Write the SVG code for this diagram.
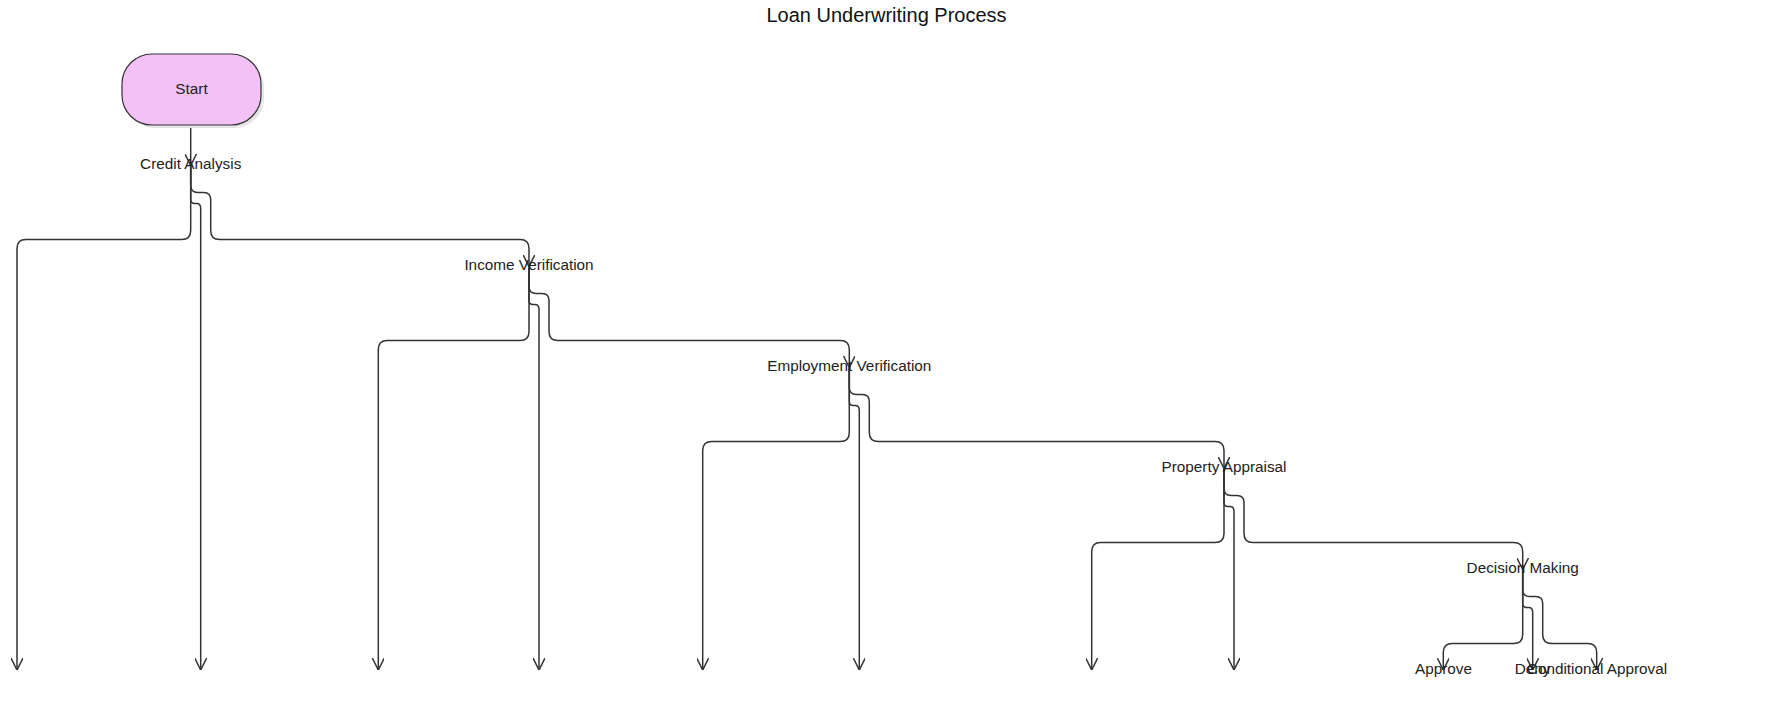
<svg xmlns="http://www.w3.org/2000/svg" width="1773" height="726" viewBox="0 0 1773 726">
<style>
text{font-family:"Liberation Sans",Arial,sans-serif;fill:#222;text-anchor:middle}
.lbl{font-size:15.3px}
.title{font-size:20px;fill:#111}
.edge{fill:none;stroke:#333;stroke-width:1.5;marker-end:url(#arr)}
</style>
<defs>
<marker id="arr" viewBox="0 0 12 12" refX="12" refY="6" markerWidth="12" markerHeight="12" markerUnits="userSpaceOnUse" orient="auto">
<path d="M0,0 L12,6 L0,12" fill="none" stroke="#333" stroke-width="1.5"/>
</marker>
</defs>
<rect width="1773" height="726" fill="#fff"/>
<text class="title" x="886.5" y="22">Loan Underwriting Process</text>
<g id="connectors">
<path class="edge" d="M190.7,125 V165.5"/>
<path class="edge" d="M190.7,165.5 V185.5 Q190.7,192.5 197.7,192.5 H203.7 Q210.7,192.5 210.7,199.5 V230.5 Q210.7,239.5 219.7,239.5 H520 Q529,239.5 529,248.5 V266.5"/>
<path class="edge" d="M190.7,165.5 V199.5 Q190.7,203.5 194.7,203.5 H196.7 Q200.7,203.5 200.7,208.5 V670"/>
<path class="edge" d="M190.7,165.5 V230.5 Q190.7,239.5 181.7,239.5 H26 Q17,239.5 17,248.5 V670"/>
<path class="edge" d="M529,266.5 V286.5 Q529,293.5 536,293.5 H542 Q549,293.5 549,300.5 V331.5 Q549,340.5 558,340.5 H840.3 Q849.3,340.5 849.3,349.5 V367.5"/>
<path class="edge" d="M529,266.5 V300.5 Q529,304.5 533,304.5 H535 Q539,304.5 539,309.5 V670"/>
<path class="edge" d="M529,266.5 V331.5 Q529,340.5 520,340.5 H387.3 Q378.3,340.5 378.3,349.5 V670"/>
<path class="edge" d="M849.3,367.5 V387.5 Q849.3,394.5 856.3,394.5 H862.3 Q869.3,394.5 869.3,401.5 V432.5 Q869.3,441.5 878.3,441.5 H1215 Q1224,441.5 1224,450.5 V468.5"/>
<path class="edge" d="M849.3,367.5 V401.5 Q849.3,405.5 853.3,405.5 H855.3 Q859.3,405.5 859.3,410.5 V670"/>
<path class="edge" d="M849.3,367.5 V432.5 Q849.3,441.5 840.3,441.5 H711.7 Q702.7,441.5 702.7,450.5 V670"/>
<path class="edge" d="M1224,468.5 V488.5 Q1224,495.5 1231,495.5 H1237 Q1244,495.5 1244,502.5 V533.5 Q1244,542.5 1253,542.5 H1513.7 Q1522.7,542.5 1522.7,551.5 V569.5"/>
<path class="edge" d="M1224,468.5 V502.5 Q1224,506.5 1228,506.5 H1230 Q1234,506.5 1234,511.5 V670"/>
<path class="edge" d="M1224,468.5 V533.5 Q1224,542.5 1215,542.5 H1100.7 Q1091.7,542.5 1091.7,551.5 V670"/>
<path class="edge" d="M1522.7,569.5 V589.5 Q1522.7,596.5 1529.7,596.5 H1535.7 Q1542.7,596.5 1542.7,603.5 V634.5 Q1542.7,643.5 1551.7,643.5 H1587.7 Q1596.7,643.5 1596.7,652.5 V670"/>
<path class="edge" d="M1522.7,569.5 V603.5 Q1522.7,607.5 1526.7,607.5 H1528.7 Q1532.7,607.5 1532.7,612.5 V670"/>
<path class="edge" d="M1522.7,569.5 V634.5 Q1522.7,643.5 1513.7,643.5 H1452.3 Q1443.3,643.5 1443.3,652.5 V670"/>
</g>
<g id="start">
<rect x="125" y="57" width="139" height="71" rx="30" fill="#e6e6e6"/>
<rect x="122" y="54" width="139" height="71" rx="30" fill="#f3c1f6" stroke="#333" stroke-width="1.2"/>
<text class="lbl" x="191.5" y="93.5">Start</text>
</g>
<g id="credit-analysis"><text class="lbl" x="190.7" y="168.5">Credit Analysis</text></g>
<g id="income-verification"><text class="lbl" x="529" y="269.5">Income Verification</text></g>
<g id="employment-verification"><text class="lbl" x="849.3" y="370.5">Employment Verification</text></g>
<g id="property-appraisal"><text class="lbl" x="1224" y="471.5">Property Appraisal</text></g>
<g id="decision-making"><text class="lbl" x="1522.7" y="572.5">Decision Making</text></g>
<g id="approve"><text class="lbl" x="1443.5" y="673.5">Approve</text></g>
<g id="deny"><text class="lbl" x="1532.5" y="673.5">Deny</text></g>
<g id="conditional-approval"><text class="lbl" x="1597" y="673.5">Conditional Approval</text></g>
</svg>
